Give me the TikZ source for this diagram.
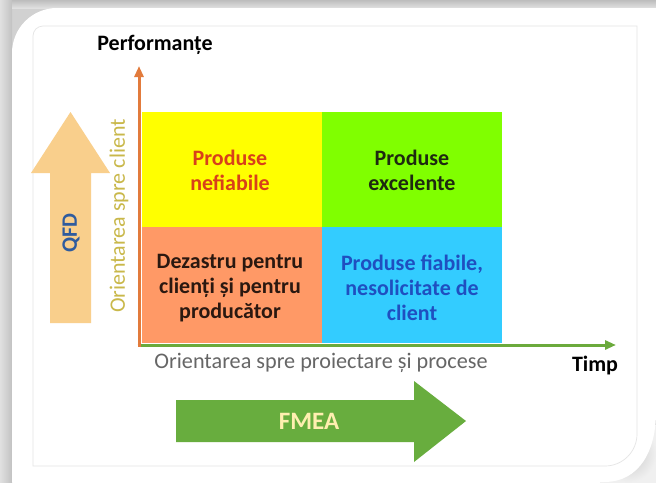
\documentclass[tikz,border=0pt]{standalone}
\usepackage{fontspec}
\setmainfont{Carlito}
\usetikzlibrary{arrows.meta,calc}
\definecolor{qyellow}{HTML}{FFFF00}
\definecolor{qgreen}{HTML}{80FF00}
\definecolor{qorange}{HTML}{FF9966}
\definecolor{qblue}{HTML}{33CCFF}
\definecolor{axorange}{HTML}{E27B3C}
\definecolor{axgreen}{HTML}{6BAA3C}
\definecolor{qfdfill}{HTML}{F9CF8C}
\definecolor{qfdtext}{HTML}{2F5C9E}
\definecolor{fmeafill}{HTML}{68AD3E}
\definecolor{fmeatext}{HTML}{FFEFB0}
\definecolor{cltext}{HTML}{C9B84A}
\definecolor{redtext}{HTML}{D8401A}
\definecolor{darktext}{HTML}{1E2A10}
\definecolor{dztext}{HTML}{2A1810}
\definecolor{bluetext}{HTML}{1F4FC0}
\definecolor{graytext}{HTML}{666666}
\begin{document}
\begin{tikzpicture}[x=1pt,y=-1pt,
  quad/.style={draw=none,minimum width=180pt,minimum height=116pt,inner sep=0pt,outer sep=0pt},
  qtext/.style={font=\fontsize{22}{25}\selectfont\bfseries,align=center},
  axis/.style={line width=3pt,-{Triangle[length=11pt,width=9pt]}}]
\useasboundingbox (0,0) rectangle (656,482);
% background and frame
\fill[black!18] (0,0) rectangle (656,482);
\shade[left color=black!12,right color=black!24] (0,0) rectangle (12,482);
\shade[top color=black!26,bottom color=black!12] (12,0) rectangle (656,8);
\shade[inner color=black!22,outer color=black!6] (600,425) rectangle (656,482);
\fill[white] (12,482) -- (12,53) arc[start angle=180,end angle=270,radius=45] -- (656,8) -- (656,412)
  .. controls (656,450) and (640,482) .. (604,482) -- cycle;
\draw[black!10,line width=0.7pt] (33,466) -- (33,36) arc[start angle=180,end angle=270,radius=10] -- (637,26) -- (637,434)
  arc[start angle=0,end angle=90,radius=32] -- cycle;
% quadrants
\node[quad,fill=qyellow] (q1) at (232,169.5) {};
\node[quad,fill=qgreen] (q2) at (412,169.5) {};
\node[quad,fill=qorange] (q3) at (232,285) {};
\node[quad,fill=qblue] (q4) at (412,285) {};
\node[qtext,text=redtext] (t1) at (230,170) {Produse\\nefiabile};
\node[qtext,text=darktext] (t2) at (412,170) {Produse\\excelente};
\node[qtext,text=dztext] (t3) at (230,288) {Dezastru pentru\\clienți și pentru\\producător};
\node[qtext,text=bluetext] (t4) at (412,288) {Produse fiabile,\\nesolicitate de\\client};
% axes
\coordinate (o) at (139,345);
\coordinate (ytip) at (139,66);
\coordinate (xtip) at (616,345);
\draw[axis,axgreen] (137.5,345) -- (xtip);
\draw[axis,axorange] (139,346.5) -- (ytip);
\node[font=\fontsize{22}{25}\selectfont\bfseries] (perf) at (155,45) {Performanțe};
\node[font=\fontsize{22}{25}\selectfont\bfseries] (timp) at (595,366) {Timp};
\node[font=\fontsize{22.2}{25}\selectfont,text=graytext] (xlab) at (321,363) {Orientarea spre proiectare și procese};
\node[font=\fontsize{22}{25}\selectfont,text=cltext,rotate=90] (ylab) at (119,216) {Orientarea spre client};
% QFD arrow
\fill[qfdfill] (50,323) -- (50,173) -- (31,173) -- (70.5,112) -- (110,173) -- (91,173) -- (91,323) -- cycle;
\node[font=\fontsize{22}{25}\selectfont\bfseries,text=qfdtext,rotate=90] (qfd) at (71,233) {QFD};
% FMEA arrow
\fill[fmeafill] (176,400) -- (414,400) -- (414,381) -- (466,421) -- (414,462) -- (414,442) -- (176,442) -- cycle;
\node[font=\fontsize{25}{28}\selectfont\bfseries,text=fmeatext] (fmea) at (309,421) {FMEA};
\end{tikzpicture}
\end{document}
